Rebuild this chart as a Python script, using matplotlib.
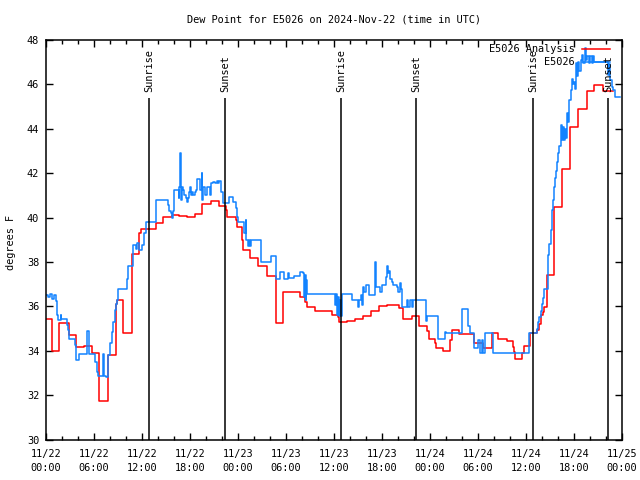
import matplotlib
matplotlib.use("Agg")
import matplotlib.pyplot as plt

# Hours since 2024-11-22 00:00 UTC
analysis_t = [0.0, 0.71, 1.66, 2.84, 3.71, 4.79, 5.71, 6.66, 7.71, 8.69, 8.91, 9.66, 10.71, 11.66, 11.9,
              13.75, 14.59, 15.71, 16.66, 17.66, 18.63, 19.54, 20.63, 21.63, 22.5, 22.66, 23.71, 23.91,
              24.46, 24.66, 25.5, 26.54, 27.66, 28.75, 29.66, 30.71, 31.75, 32.38, 32.66, 33.63, 35.71,
              36.54, 36.66, 37.59, 38.63, 39.66, 40.59, 41.66, 42.66, 44.09, 44.59, 45.71, 46.66, 47.59,
              47.91, 48.63, 48.75, 49.66, 50.5, 50.71, 51.66, 53.5, 54.25, 54.59, 55.71, 56.54, 57.59,
              58.34, 58.54, 58.63, 59.54, 59.75, 60.44, 61.41, 61.66, 61.88, 62.09, 62.25, 62.59, 63.54,
              64.54, 65.54, 66.54, 67.59, 68.54, 69.59, 70.83]
analysis_v = [35.42, 34.0, 35.24, 34.70, 34.17, 34.22, 33.88, 31.74, 33.8, 36.1, 36.3, 34.8, 38.34, 39.32, 39.5,
              39.74, 40.01, 40.11, 40.08, 40.01, 40.16, 40.6, 40.76, 40.52, 40.34, 40.04, 39.89, 39.56,
              38.99, 38.54, 38.16, 37.82, 37.37, 35.24, 36.66, 36.63, 36.43, 36.21, 35.95, 35.8, 35.61,
              35.5, 35.28, 35.35, 35.41, 35.56, 35.79, 36.01, 36.06, 35.94, 35.41, 35.56, 35.11, 34.9,
              34.51, 34.36, 34.14, 34.0, 34.48, 34.93, 34.75, 34.33, 34.33, 34.11, 34.78, 34.51, 34.45,
              34.15, 33.96, 33.62, 33.89, 34.2, 34.8, 34.93, 35.22, 35.6, 35.75, 35.98, 37.41, 40.46,
              42.17, 44.07, 44.88, 45.7, 45.97, 45.72, 45.72]

obs_t = [0.0, 0.3, 0.55, 0.8, 1.0, 1.25, 1.42, 1.54, 1.83, 1.92, 2.67, 2.79, 2.92, 3.63, 3.71, 4.17,
         5.17, 5.38, 6.13, 6.33, 6.46, 7.08, 7.25, 7.46, 7.71, 8.0, 8.21, 8.42, 8.58, 8.75, 8.92, 9.04,
         10.08, 10.21, 10.92, 11.25, 11.42, 11.67, 11.96, 12.29, 12.5, 13.75, 15.29, 15.42, 15.58, 15.75,
         15.92, 16.04, 16.63, 16.67, 16.79, 16.88, 16.96, 17.04, 17.17, 17.29, 17.46, 17.58, 17.71, 17.88,
         18.0, 18.13, 18.29, 18.42, 18.58, 18.71, 18.83, 19.25, 19.46, 19.54, 19.67, 19.88, 20.08, 20.5,
         20.63, 20.83, 21.13, 21.33, 21.46, 21.63, 21.88, 22.08, 22.92, 23.42, 23.71, 23.92, 24.04, 24.79,
         24.96, 25.04, 25.21, 25.33, 25.46, 25.63, 26.83, 28.08, 28.75, 29.25, 29.79, 30.29, 30.38, 31.0,
         31.75, 32.17, 32.29, 32.38, 32.46, 32.54, 32.63, 36.13, 36.25, 36.42, 36.54, 36.67, 36.79, 36.88,
         37.0, 38.21, 39.04, 39.17, 39.38, 39.54, 39.67, 39.79, 40.0, 40.38, 41.17, 41.29, 41.75, 41.96,
         42.46, 42.58, 42.71, 42.88, 43.0, 43.21, 43.42, 43.83, 44.04, 44.25, 44.38, 44.46, 44.54, 45.17,
         45.29, 45.5, 45.71, 45.92, 47.5, 47.67, 49.04, 49.88, 50.0, 51.96, 52.71, 53.0, 53.5, 54.04,
         54.25, 54.54, 54.67, 54.88, 55.83, 60.41, 61.41, 61.54, 61.66, 61.83, 61.96, 62.08, 62.25, 62.79,
         62.91, 63.08, 63.21, 63.33, 63.5, 63.63, 63.75, 63.92, 64.04, 64.17, 64.38, 64.5, 64.63, 64.75,
         64.88, 65.0, 65.17, 65.29, 65.42, 65.58, 65.71, 65.83, 66.0, 66.17, 66.25, 66.42, 66.54, 66.67,
         66.83, 66.96, 67.17, 67.38, 67.5, 67.67, 67.83, 68.0, 68.21, 68.33, 68.5, 70.29, 70.42, 70.54,
         70.71, 70.92, 71.13, 71.75]
obs_v = [36.51, 36.4, 36.55, 36.35, 36.5, 36.26, 35.61, 35.37, 35.61, 35.42, 35.16, 34.93, 34.55, 34.25, 33.58, 33.85,
         34.88, 33.85, 33.5, 33.05, 32.86, 33.85, 32.86, 32.8, 33.81, 34.33, 34.86, 35.31, 35.83, 36.1, 36.28, 36.8,
         37.25, 37.82, 38.77, 38.6, 38.85, 38.54, 38.76, 39.31, 39.82, 40.79, 40.56, 40.3, 40.19, 39.97,
         40.3, 41.24, 40.9, 41.39, 42.92, 40.8, 41.0, 41.39, 41.24, 41.0, 40.86, 40.71, 40.86, 41.17,
         41.39, 41.0, 41.17, 41.0, 41.17, 41.24, 41.72, 41.24, 42.0, 40.79, 41.39, 41.0, 41.39, 41.0,
         41.54, 41.62, 41.54, 41.66, 41.54, 41.66, 41.17, 40.64, 40.91, 40.71, 40.41, 40.04, 39.82, 39.29,
         39.9, 38.99, 38.72, 38.99, 38.72, 38.99, 37.98, 38.28, 37.25, 37.53, 37.25, 37.5, 37.28, 37.35,
         37.56, 37.5, 36.4, 37.4, 36.3, 37.2, 36.55, 36.06, 36.55, 35.6, 36.4, 35.55, 36.3, 35.55,
         36.55, 36.28, 35.95, 36.28, 36.5, 36.06, 36.89, 36.66, 36.96, 36.51, 37.98, 36.89, 36.66, 36.96,
         37.34, 37.82, 37.5, 37.57, 37.25, 37.1, 36.96, 36.89, 36.66, 37.05, 36.8, 36.66, 35.98, 36.28,
         35.95, 36.28, 35.95, 36.28, 35.33, 35.56, 34.55, 34.85, 34.8, 35.86, 35.11, 34.8, 34.11, 34.5,
         33.89, 34.5, 33.89, 34.8, 33.89, 34.8, 35.0, 35.31, 35.53, 35.8, 36.1, 36.36, 36.76, 38.31,
         38.8, 39.44, 40.34, 40.79, 41.36, 41.77, 42.1, 42.52, 42.89, 43.22, 44.17, 43.49, 44.1, 43.49,
         44.0, 43.6, 44.7, 44.3, 45.3, 45.75, 46.23, 46.0, 46.1, 45.8, 46.95, 46.4, 47.0, 46.6,
         47.1, 47.32, 46.95, 47.62, 47.1, 47.3, 46.95, 47.3, 46.95, 47.3, 47.02, 46.42, 46.9, 46.2,
         45.9, 45.75, 45.45, 45.45]

sun_t = [12.9, 22.4, 36.9, 46.3, 60.9, 70.3]
sun_labels = ["Sunrise", "Sunset", "Sunrise", "Sunset", "Sunrise", "Sunset"]

tick_hours = list(range(0, 73, 6))
tick_labels = ["11/22\n00:00", "11/22\n06:00", "11/22\n12:00", "11/22\n18:00",
               "11/23\n00:00", "11/23\n06:00", "11/23\n12:00", "11/23\n18:00",
               "11/24\n00:00", "11/24\n06:00", "11/24\n12:00", "11/24\n18:00",
               "11/25\n00:00"]

FONT = "DejaVu Sans Mono"
FS = 7.4
plt.rcParams['font.family'] = FONT

fig = plt.figure(figsize=(6.4, 4.8), dpi=100)
ax = fig.add_axes([46/640, 1-439.5/480, 576/640, 399.5/480])

RED = "#ff0000"
BLUE = "#1283ff"

ax.plot(analysis_t, analysis_v, drawstyle="steps-post", color=RED, lw=1.1)
ax.plot(obs_t, obs_v, drawstyle="steps-post", color=BLUE, lw=1.1)

for t, lab in zip(sun_t, sun_labels):
    ax.vlines(t, 30, 45.4, color="black", lw=1.1)
    ax.text(t, 45.66, lab, rotation=90, ha="center", va="bottom", fontsize=FS, family=FONT)

ax.set_xlim(0, 72)
ax.set_ylim(30, 48)
ax.set_xticks(tick_hours)
ax.set_xticklabels(tick_labels, fontsize=FS, family=FONT, linespacing=1.5)
ax.set_xticks(range(0, 73, 2), minor=True)
ax.set_yticks(range(30, 49, 2))
ax.set_yticklabels([str(v) for v in range(30, 49, 2)], fontsize=FS, family=FONT)
ax.tick_params(axis="both", which="major", direction="in", length=5, width=1,
               top=True, right=True, pad=5)
ax.tick_params(axis="x", which="minor", direction="in", length=3, width=1, top=True)
ax.tick_params(axis="x", which="major", pad=7)
for s in ax.spines.values():
    s.set_linewidth(1.1)

# legend (gnuplot style)
ax.text(0.918, 0.977, "E5026 Analysis", transform=ax.transAxes, ha="right", va="center",
        fontsize=FS, family=FONT)
ax.plot([0.9306, 0.979], [0.977, 0.977], transform=ax.transAxes, color=RED, lw=1.1)
ax.text(0.918, 0.945, "E5026", transform=ax.transAxes, ha="right", va="center",
        fontsize=FS, family=FONT)
ax.plot([0.9306, 0.979], [0.945, 0.945], transform=ax.transAxes, color=BLUE, lw=1.1)

fig.text(334/640, 1-20/480, "Dew Point for E5026 on 2024-Nov-22 (time in UTC)",
         ha="center", va="center", fontsize=FS, family=FONT)
fig.text(11/640, 1-242/480, "degrees F", rotation=90, ha="center", va="center",
         fontsize=FS, family=FONT)

fig.savefig("out.png", dpi=100)
